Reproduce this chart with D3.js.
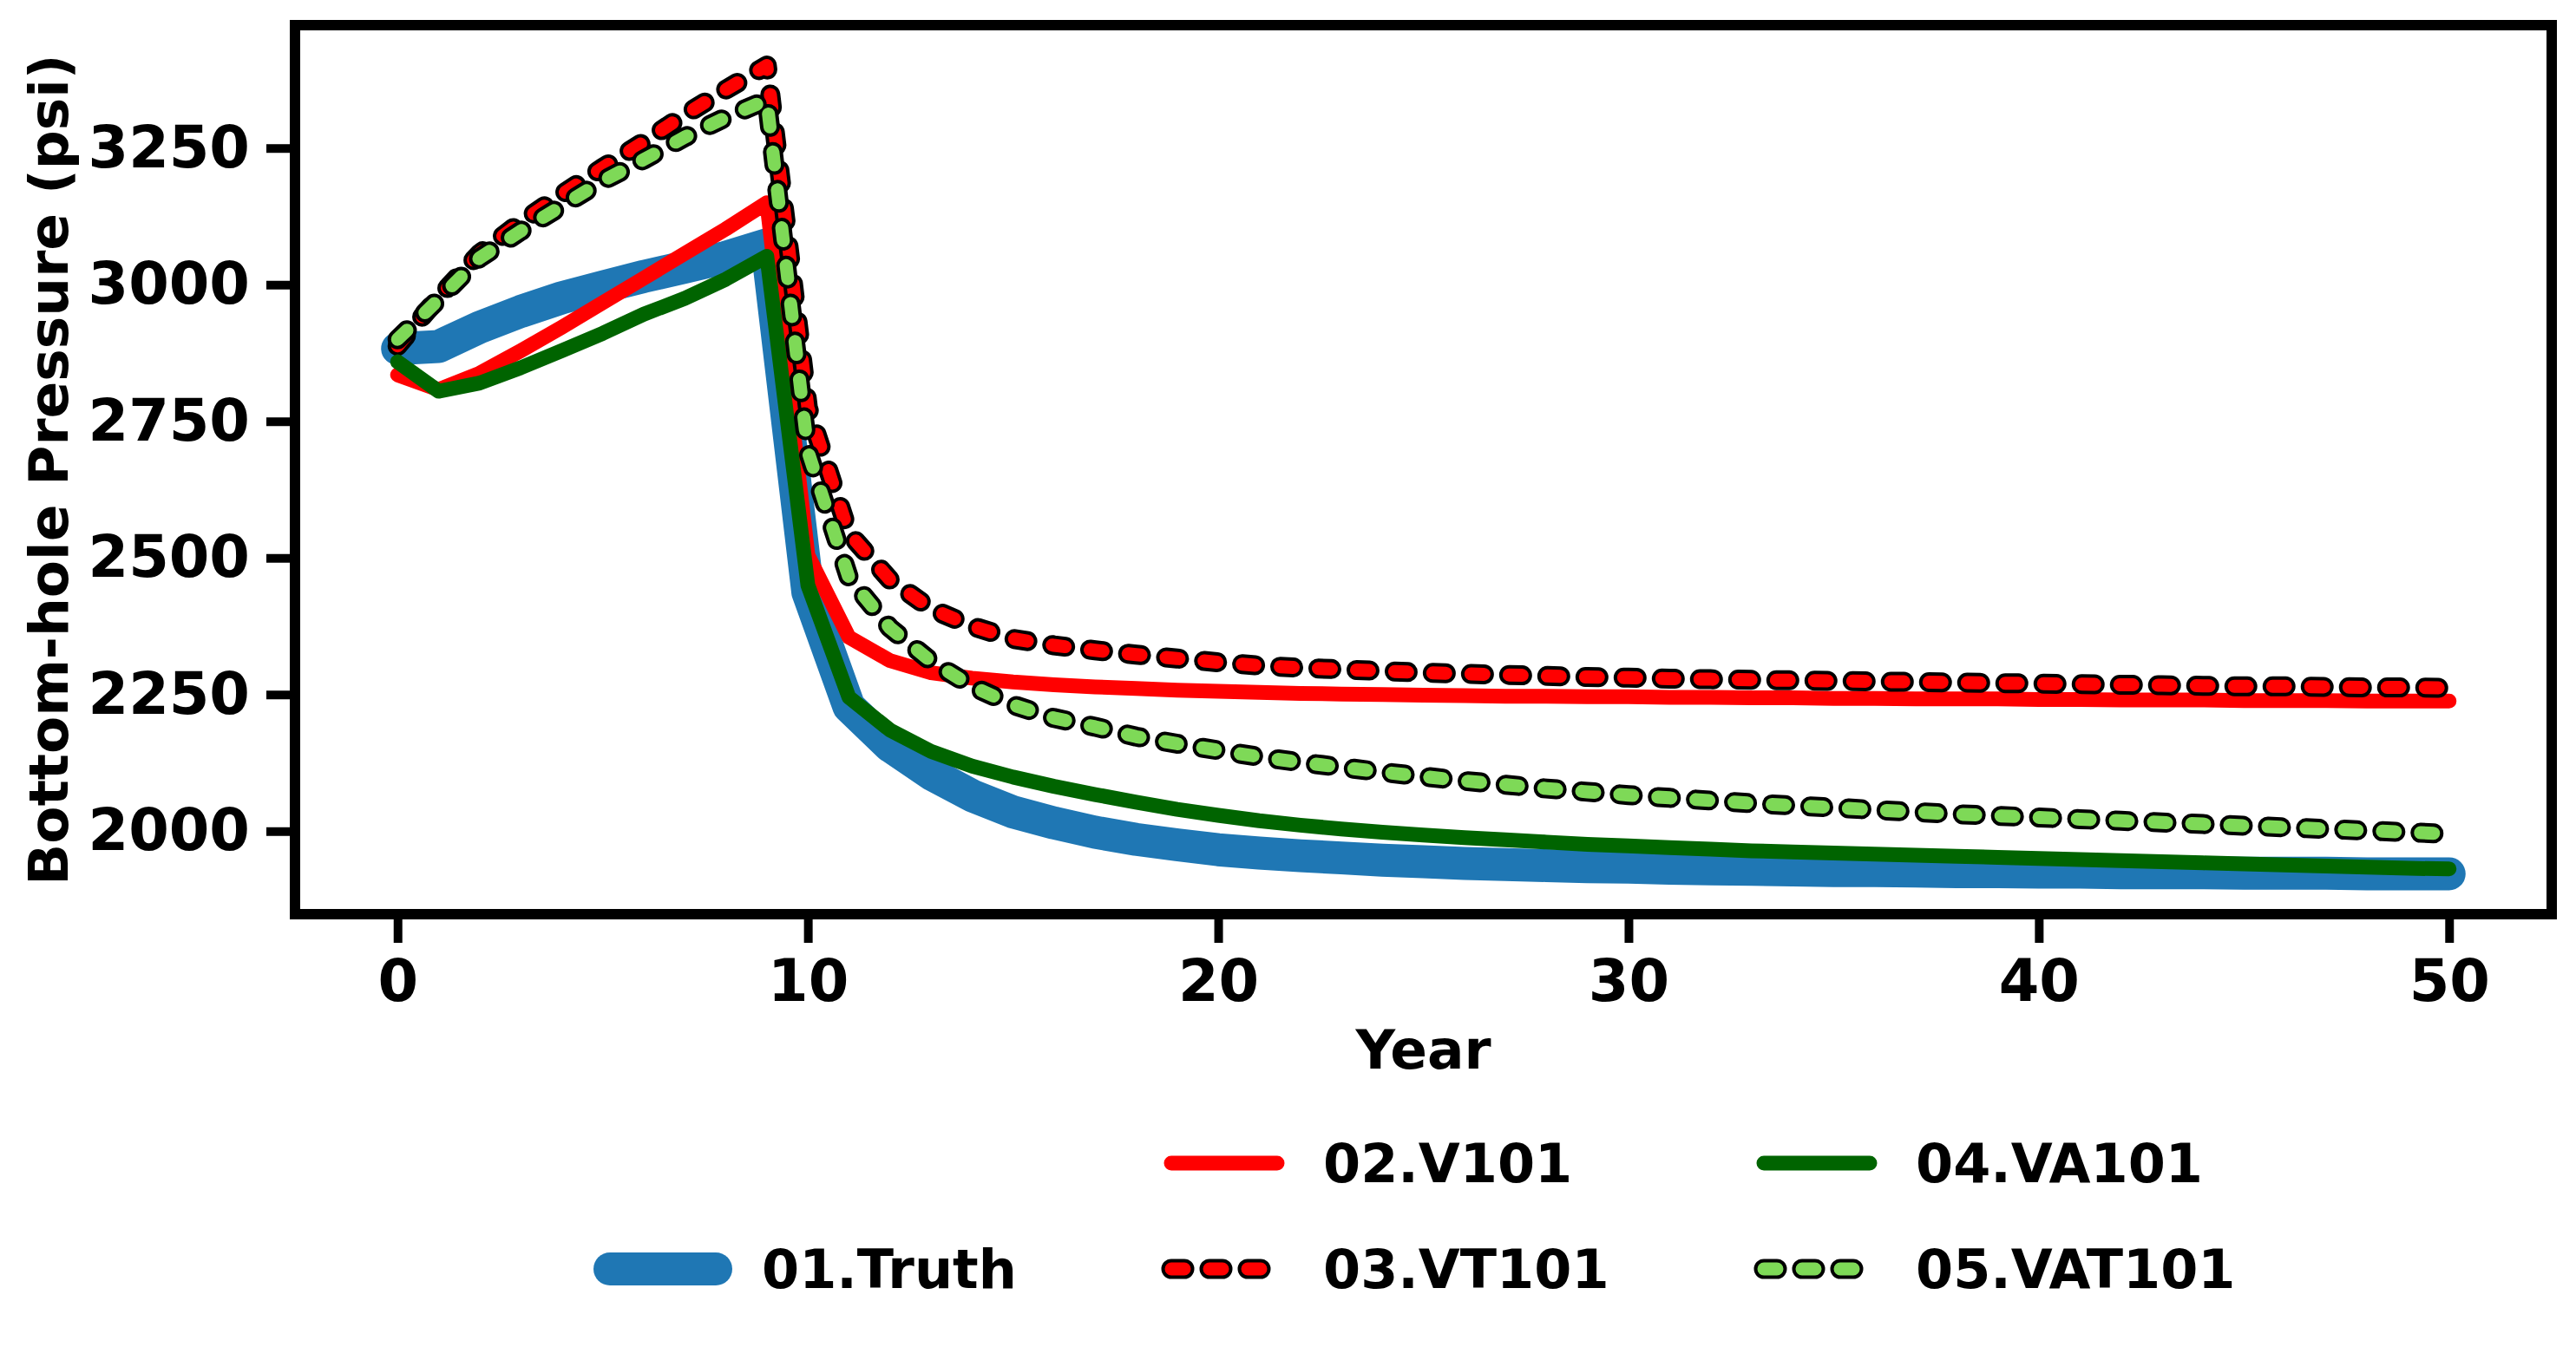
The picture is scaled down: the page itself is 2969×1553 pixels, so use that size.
<!DOCTYPE html>
<html>
<head>
<meta charset="utf-8">
<script src="https://cdn.jsdelivr.net/npm/d3@7"></script>
<style>
  body { margin: 0; background: #fff; }
  svg text { font-family: "DejaVu Sans", sans-serif; font-weight: bold; fill: #000; }
</style>
</head>
<body>
<svg class="chart" width="2969" height="1553"></svg>
<script>
const years = d3.range(0, 51)

const truth = [2883, 2887, 2922, 2951, 2976, 2996, 3015, 3032, 3050, 3073,
  2437, 2228, 2156, 2105, 2065, 2035, 2015, 1998, 1985, 1975,
  1966, 1960, 1955, 1951, 1947, 1944, 1941, 1939, 1937, 1935,
  1934, 1932, 1931, 1930, 1929, 1928, 1928, 1927, 1926, 1926,
  1925, 1925, 1924, 1924, 1924, 1923, 1923, 1923, 1922, 1922, 1922]

const v101 = [2835, 2808, 2838, 2879, 2922, 2967, 3012, 3057, 3102, 3150,
  2505, 2355, 2312, 2290, 2280, 2273, 2268, 2264, 2261, 2258,
  2256, 2254, 2252, 2251, 2250, 2249, 2248, 2247, 2247, 2246,
  2246, 2245, 2245, 2244, 2244, 2243, 2243, 2242, 2242, 2242,
  2241, 2241, 2240, 2240, 2240, 2239, 2239, 2239, 2238, 2238, 2238]

const vt101 = [2888, 2977, 3057, 3114, 3165, 3214, 3261, 3311, 3357, 3401,
  2775, 2545, 2460, 2407, 2375, 2352, 2340, 2331, 2323, 2316,
  2309, 2303, 2299, 2296, 2293, 2290, 2288, 2286, 2284, 2282,
  2281, 2279, 2278, 2277, 2276, 2275, 2274, 2273, 2272, 2271,
  2270, 2269, 2268, 2267, 2266, 2265, 2265, 2264, 2263, 2263, 2262]

const va101 = [2859, 2805, 2820, 2848, 2879, 2911, 2946, 2975, 3010, 3052,
  2450, 2245, 2185, 2146, 2119, 2099, 2082, 2067, 2053, 2040,
  2029, 2019, 2011, 2004, 1998, 1993, 1988, 1984, 1980, 1976,
  1973, 1970, 1967, 1964, 1962, 1960, 1958, 1956, 1954, 1952,
  1950, 1948, 1946, 1944, 1942, 1940, 1938, 1936, 1934, 1932, 1931]

const vat101 = [2900, 2973, 3049, 3098, 3144, 3190, 3229, 3270, 3306, 3338,
  2695, 2464, 2372, 2311, 2265, 2231, 2207, 2191, 2173, 2160,
  2148, 2136, 2126, 2117, 2108, 2100, 2092, 2085, 2078, 2072,
  2066, 2061, 2056, 2051, 2047, 2043, 2039, 2035, 2031, 2028,
  2025, 2022, 2019, 2016, 2013, 2010, 2007, 2004, 2001, 1998, 1995]

const seriesNames = ['01.Truth', '02.V101', '03.VT101', '04.VA101', '05.VAT101']
const xTicks = [0, 10, 20, 30, 40, 50]
const yTicks = [2000, 2250, 2500, 2750, 3000, 3250]

// drawing styles for each series, in the same order as the names
const styles = [
  { color: '#1f77b4', width: 38, dashed: false },
  { color: '#ff0000', width: 17, dashed: false },
  { color: '#ff0000', width: 15, dashed: true },
  { color: '#006400', width: 17, dashed: false },
  { color: '#7ed957', width: 15, dashed: true },
]
const allValues = [truth, v101, vt101, va101, vat101]

const series = seriesNames.map((name, i) => ({
  name,
  style: styles[i],
  points: years.map((yr, j) => ({ x: yr, y: allValues[i][j] })),
}))

const box = { left: 340, right: 2941, top: 29, bottom: 1054 }
const spine = 12
const dash = '15 29'
const outline = 23

const svg = d3.select('svg.chart')
svg.append('rect').attr('width', 2969).attr('height', 1553).attr('fill', '#fff')

// matplotlib style 5% margins
const xExt = d3.extent(years)
const xPad = (xExt[1] - xExt[0]) * 0.05
const yExt = d3.extent(allValues.flat())
const yPad = (yExt[1] - yExt[0]) * 0.05

const x = d3.scaleLinear().domain([xExt[0] - xPad, xExt[1] + xPad]).range([box.left, box.right])
const y = d3.scaleLinear().domain([yExt[0] - yPad, yExt[1] + yPad]).range([box.bottom, box.top])

const line = d3.line().x(d => x(d.x)).y(d => y(d.y))

const plot = svg.append('g')
series.forEach(s => {
  if (s.style.dashed) {
    plot.append('path')
      .attr('d', line(s.points))
      .attr('fill', 'none')
      .attr('stroke', '#000')
      .attr('stroke-width', outline)
      .attr('stroke-dasharray', dash)
      .attr('stroke-linecap', 'round')
      .attr('stroke-linejoin', 'round')
  }
  plot.append('path')
    .attr('d', line(s.points))
    .attr('fill', 'none')
    .attr('stroke', s.style.color)
    .attr('stroke-width', s.style.width)
    .attr('stroke-dasharray', s.style.dashed ? dash : null)
    .attr('stroke-linecap', 'round')
    .attr('stroke-linejoin', 'round')
})

// frame
svg.append('rect')
  .attr('x', box.left).attr('y', box.top)
  .attr('width', box.right - box.left).attr('height', box.bottom - box.top)
  .attr('fill', 'none').attr('stroke', '#000').attr('stroke-width', spine)

// axes
const xAxis = svg.append('g')
  .attr('transform', `translate(0,${box.bottom + spine / 2})`)
  .call(d3.axisBottom(x).tickValues(xTicks).tickFormat(d3.format('d')).tickSize(27).tickPadding(19))
const yAxis = svg.append('g')
  .attr('transform', `translate(${box.left - spine / 2},0)`)
  .call(d3.axisLeft(y).tickValues(yTicks).tickFormat(d3.format('d')).tickSize(27).tickPadding(19))

;[xAxis, yAxis].forEach(g => {
  g.select('.domain').remove()
  g.selectAll('.tick line').attr('stroke', '#000').attr('stroke-width', 10)
  g.selectAll('.tick text')
    .style('font-family', '"DejaVu Sans", sans-serif')
    .style('font-weight', 'bold')
    .style('font-size', '67px')
    .attr('fill', '#000')
})

svg.append('text')
  .attr('x', (box.left + box.right) / 2)
  .attr('y', 1232)
  .attr('text-anchor', 'middle')
  .style('font-size', '63px')
  .text('Year')

svg.append('text')
  .attr('transform', `translate(78,${(box.top + box.bottom) / 2}) rotate(-90)`)
  .attr('text-anchor', 'middle')
  .style('font-size', '63px')
  .text('Bottom-hole Pressure (psi)')

// legend: column, row for each series
const legendSlots = [[0, 1], [1, 0], [1, 1], [2, 0], [2, 1]]
const colX = [703, 1350, 2033]
const rowY = [1341, 1463]
const handleLen = 122

const legend = svg.append('g')
series.forEach((s, i) => {
  const [c, r] = legendSlots[i]
  const hx = colX[c]
  const hy = rowY[r]
  const seg = `M${hx},${hy}H${hx + handleLen}`
  if (s.style.dashed) {
    legend.append('path')
      .attr('d', seg)
      .attr('stroke', '#000')
      .attr('stroke-width', outline)
      .attr('stroke-dasharray', dash)
      .attr('stroke-linecap', 'round')
  }
  legend.append('path')
    .attr('d', seg)
    .attr('stroke', s.style.color)
    .attr('stroke-width', s.style.width)
    .attr('stroke-dasharray', s.style.dashed ? dash : null)
    .attr('stroke-linecap', 'round')
  legend.append('text')
    .attr('x', hx + handleLen + 53)
    .attr('y', hy)
    .attr('dy', '0.36em')
    .style('font-size', '62px')
    .text(s.name)
})
</script>
</body>
</html>
